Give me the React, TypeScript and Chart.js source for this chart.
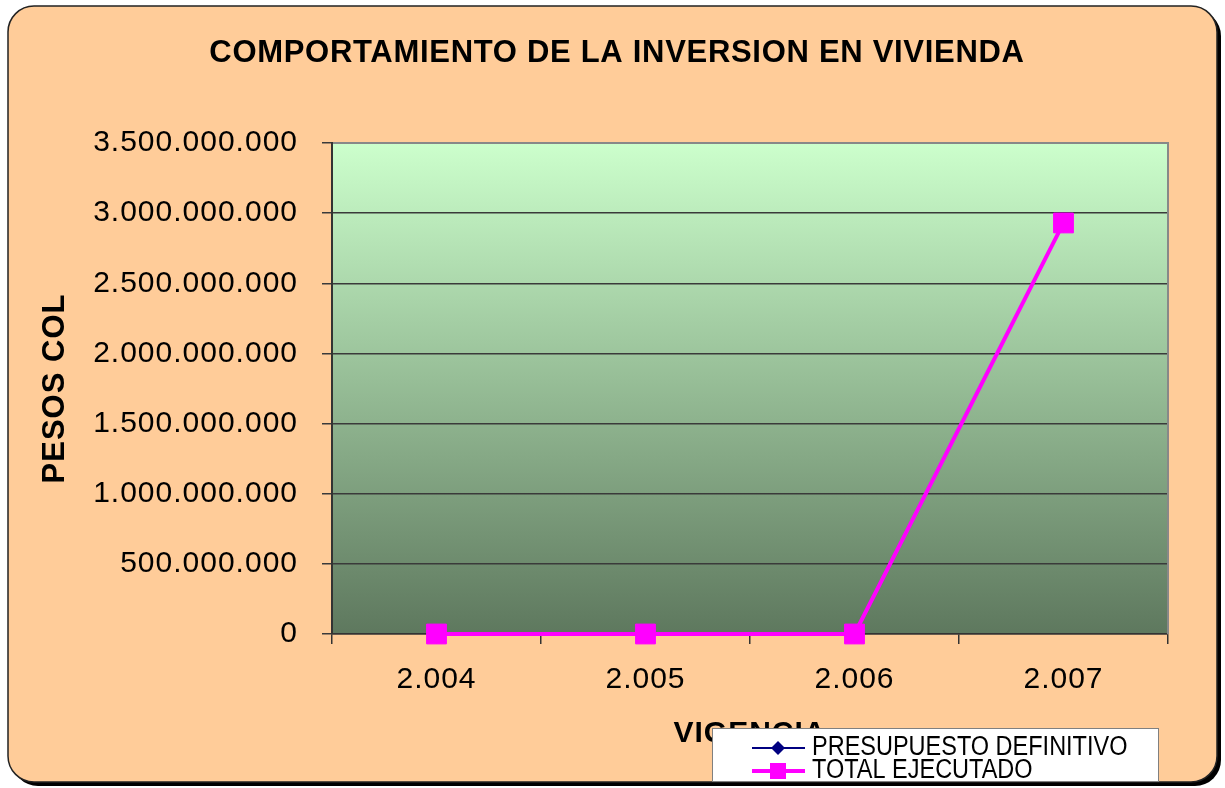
import React, { useEffect, useRef } from 'react';
import { Chart, registerables } from 'chart.js';

Chart.register(...registerables);

const categories = ['2.004', '2.005', '2.006', '2.007'];
const presupuestoDefinitivo = [0, 0, 0, 2930000000];
const totalEjecutado = [0, 0, 0, 2930000000];
const seriesNames = ['PRESUPUESTO DEFINITIVO', 'TOTAL EJECUTADO'];
const yMin = 0;
const yMax = 3500000000;
const yStep = 500000000;
const chartTitle = 'COMPORTAMIENTO DE LA INVERSION EN VIVIENDA';
const xTitle = 'VIGENCIA';
const yTitle = 'PESOS COL';

const FONT = 'Arial, "Liberation Sans", sans-serif';

const fmt = (v: number) => Math.round(v).toString().replace(/\B(?=(\d{3})+(?!\d))/g, '.');

function roundRect(ctx: CanvasRenderingContext2D, x: number, y: number, w: number, h: number, r: number) {
  ctx.beginPath();
  ctx.moveTo(x + r, y);
  ctx.lineTo(x + w - r, y);
  ctx.arcTo(x + w, y, x + w, y + r, r);
  ctx.lineTo(x + w, y + h - r);
  ctx.arcTo(x + w, y + h, x + w - r, y + h, r);
  ctx.lineTo(x + r, y + h);
  ctx.arcTo(x, y + h, x, y + h - r, r);
  ctx.lineTo(x, y + r);
  ctx.arcTo(x, y, x + r, y, r);
  ctx.closePath();
}

const framePlugin = {
  id: 'framePlugin',
  beforeDraw(chart: any) {
    const ctx: any = chart.ctx;
    const { left, top, right, bottom } = chart.chartArea;
    ctx.save();
    roundRect(ctx, 12, 10, 1209, 776, 26);
    ctx.fillStyle = '#000';
    ctx.fill();
    roundRect(ctx, 8, 6, 1209, 776, 26);
    ctx.fillStyle = '#FFCC99';
    ctx.fill();
    ctx.lineWidth = 1.5;
    ctx.strokeStyle = '#222';
    ctx.stroke();
    const g = ctx.createLinearGradient(0, top, 0, bottom);
    g.addColorStop(0, '#CCFFCC');
    g.addColorStop(1, '#5E785E');
    ctx.fillStyle = g;
    ctx.fillRect(left, top, right - left, bottom - top);
    ctx.restore();
    ctx.letterSpacing = '1px';
  },
  beforeDatasetsDraw(chart: any) {
    const ctx: any = chart.ctx;
    ctx.letterSpacing = '0px';
    const { left, top, right, bottom } = chart.chartArea;
    ctx.save();
    ctx.strokeStyle = '#888';
    ctx.lineWidth = 2;
    ctx.beginPath();
    ctx.moveTo(left + 1, top);
    ctx.lineTo(right, top);
    ctx.lineTo(right, bottom);
    ctx.stroke();
    ctx.restore();
  },
  afterDraw(chart: any) {
    const ctx: any = chart.ctx;
    ctx.save();
    // title
    ctx.letterSpacing = '0.7px';
    ctx.fillStyle = '#000';
    ctx.font = `bold 31px ${FONT}`;
    ctx.textAlign = 'center';
    ctx.textBaseline = 'alphabetic';
    ctx.fillText(chartTitle, 617, 62);
    ctx.letterSpacing = '0px';

    // legend
    ctx.fillStyle = '#fff';
    ctx.fillRect(712, 728, 447, 54);
    ctx.strokeStyle = '#808080';
    ctx.lineWidth = 1;
    ctx.strokeRect(712.5, 728.5, 446, 53);

    const ds = chart.data.datasets;
    ctx.strokeStyle = ds[0].borderColor;
    ctx.lineWidth = 2;
    ctx.beginPath();
    ctx.moveTo(752, 748);
    ctx.lineTo(805, 748);
    ctx.stroke();
    ctx.fillStyle = ds[0].backgroundColor;
    ctx.beginPath();
    ctx.moveTo(778, 741);
    ctx.lineTo(785, 748);
    ctx.lineTo(778, 755);
    ctx.lineTo(771, 748);
    ctx.closePath();
    ctx.fill();
    ctx.strokeStyle = ds[1].borderColor;
    ctx.lineWidth = 4;
    ctx.beginPath();
    ctx.moveTo(752, 771);
    ctx.lineTo(805, 771);
    ctx.stroke();
    ctx.fillStyle = ds[1].backgroundColor;
    ctx.fillRect(770, 763, 16, 16);

    ctx.fillStyle = '#000';
    ctx.font = `27px ${FONT}`;
    ctx.textAlign = 'left';
    const baselines = [755, 778];
    seriesNames.forEach((t, i) => {
      ctx.save();
      ctx.translate(812, baselines[i]);
      ctx.scale(0.87, 1);
      ctx.fillText(t, 0, 0);
      ctx.restore();
    });
    ctx.restore();
  },
};

export default function App() {
  const ref = useRef<HTMLCanvasElement | null>(null);

  useEffect(() => {
    if (!ref.current) return;
    Chart.defaults.font.family = FONT;
    const chart = new Chart(ref.current, {
      type: 'line',
      data: {
        labels: categories,
        datasets: [
          {
            label: seriesNames[0],
            data: presupuestoDefinitivo,
            borderColor: '#000080',
            backgroundColor: '#000080',
            pointBorderColor: '#000080',
            pointBackgroundColor: '#000080',
            borderWidth: 2,
            pointStyle: 'rectRot',
            pointRadius: 8,
            order: 2,
            clip: false,
          },
          {
            label: seriesNames[1],
            data: totalEjecutado,
            borderColor: '#FF00FF',
            backgroundColor: '#FF00FF',
            pointBorderColor: '#FF00FF',
            pointBackgroundColor: '#FF00FF',
            borderWidth: 4,
            pointStyle: 'rect',
            pointRadius: 14,
            pointBorderWidth: 1,
            order: 1,
            clip: false,
          },
        ],
      },
      options: {
        animation: false,
        responsive: false,
        devicePixelRatio: 1,
        layout: { padding: { top: 143, right: 57, bottom: 0, left: 0 } },
        plugins: {
          legend: { display: false },
          tooltip: { enabled: false },
          title: { display: false },
        },
        scales: {
          x: {
            offset: true,
            ticks: { color: '#000', font: { size: 30 }, padding: 18 },
            grid: {
              offset: true,
              drawOnChartArea: false,
              drawTicks: true,
              tickLength: 10,
              color: '#333',
              lineWidth: 1.5,
            },
            border: { display: true, color: '#333', width: 1.5 },
            title: {
              display: true,
              text: xTitle,
              color: '#000',
              font: { size: 30, weight: 'bold' },
              padding: { top: 0, bottom: 36 },
            },
            afterFit: (s: any) => {
              s.height = 154;
            },
          },
          y: {
            min: yMin,
            max: yMax,
            ticks: {
              stepSize: yStep,
              color: '#000',
              font: { size: 30 },
              padding: 24,
              callback: (v: any) => fmt(Number(v)),
            },
            grid: {
              color: '#3a3a3a',
              lineWidth: 1.5,
              tickLength: 10,
              drawTicks: true,
            },
            border: { display: true, color: '#333', width: 2 },
            title: {
              display: true,
              text: yTitle,
              color: '#000',
              font: { size: 31, weight: 'bold' },
              padding: { top: 37, bottom: 0 },
            },
            afterFit: (s: any) => {
              s.width = 332;
            },
          },
        },
      },
      plugins: [framePlugin],
    } as any);
    return () => chart.destroy();
  }, []);

  return (
    <div style={{ position: 'absolute', left: 0, top: 0, width: 1225, height: 788 }}>
      <canvas ref={ref} width={1225} height={788} style={{ display: 'block' }} />
    </div>
  );
}
